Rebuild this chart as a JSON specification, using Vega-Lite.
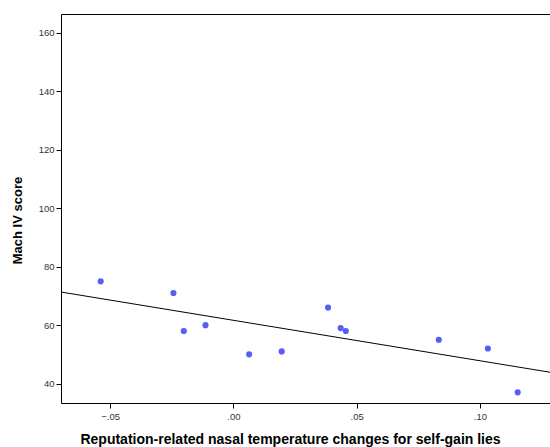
{
  "$schema": "https://vega.github.io/schema/vega-lite/v6.json",
  "width": 489,
  "height": 389,
  "autosize": "none",
  "padding": {"left": 61, "top": 14, "right": 0, "bottom": 44},
  "background": "white",
  "config": {
    "view": {"stroke": "black", "strokeWidth": 1},
    "axis": {
      "grid": false,
      "domain": false,
      "tickColor": "black",
      "tickSize": 5,
      "labelFont": "Liberation Sans",
      "labelFontSize": 9.5,
      "labelColor": "#333333",
      "titleFont": "Liberation Sans",
      "titleFontSize": 13,
      "titleFontWeight": "bold",
      "titleColor": "black"
    }
  },
  "data": {
    "values": [
      {"x": -0.0538, "y": 75},
      {"x": -0.0243, "y": 71},
      {"x": -0.0201, "y": 58},
      {"x": -0.0113, "y": 60},
      {"x": 0.0064, "y": 50},
      {"x": 0.0196, "y": 51},
      {"x": 0.0384, "y": 66},
      {"x": 0.0435, "y": 59},
      {"x": 0.0456, "y": 58},
      {"x": 0.0833, "y": 55},
      {"x": 0.1032, "y": 52},
      {"x": 0.1153, "y": 37}
    ]
  },
  "layer": [
    {
      "transform": [{"regression": "y", "on": "x", "extent": [-0.0699, 0.1284]}],
      "mark": {"type": "line", "color": "black", "strokeWidth": 1, "clip": true},
      "encoding": {
        "x": {"field": "x", "type": "quantitative"},
        "y": {"field": "y", "type": "quantitative"}
      }
    },
    {
      "mark": {"type": "circle", "color": "#5b5bf5", "opacity": 1, "size": 38},
      "encoding": {
        "x": {
          "field": "x",
          "type": "quantitative",
          "scale": {"domain": [-0.0699, 0.1284], "nice": false, "zero": false},
          "axis": {
            "values": [-0.05, 0, 0.05, 0.1],
            "labelExpr": "replace(format(datum.value, '.2f'), '0.', '.')",
            "title": "Reputation-related nasal temperature changes for self-gain lies",
            "titleFontSize": 14,
            "titleX": 229,
            "titleY": 40,
            "titleAlign": "center",
            "titleBaseline": "alphabetic",
            "labelPadding": 3
          }
        },
        "y": {
          "field": "y",
          "type": "quantitative",
          "scale": {"domain": [33.35, 166.5], "nice": false, "zero": false},
          "axis": {
            "values": [40, 60, 80, 100, 120, 140, 160],
            "title": "Mach IV score",
            "titleX": -44,
            "titleY": 206,
            "titleAlign": "center",
            "titleBaseline": "middle",
            "labelPadding": 2
          }
        }
      }
    }
  ]
}
